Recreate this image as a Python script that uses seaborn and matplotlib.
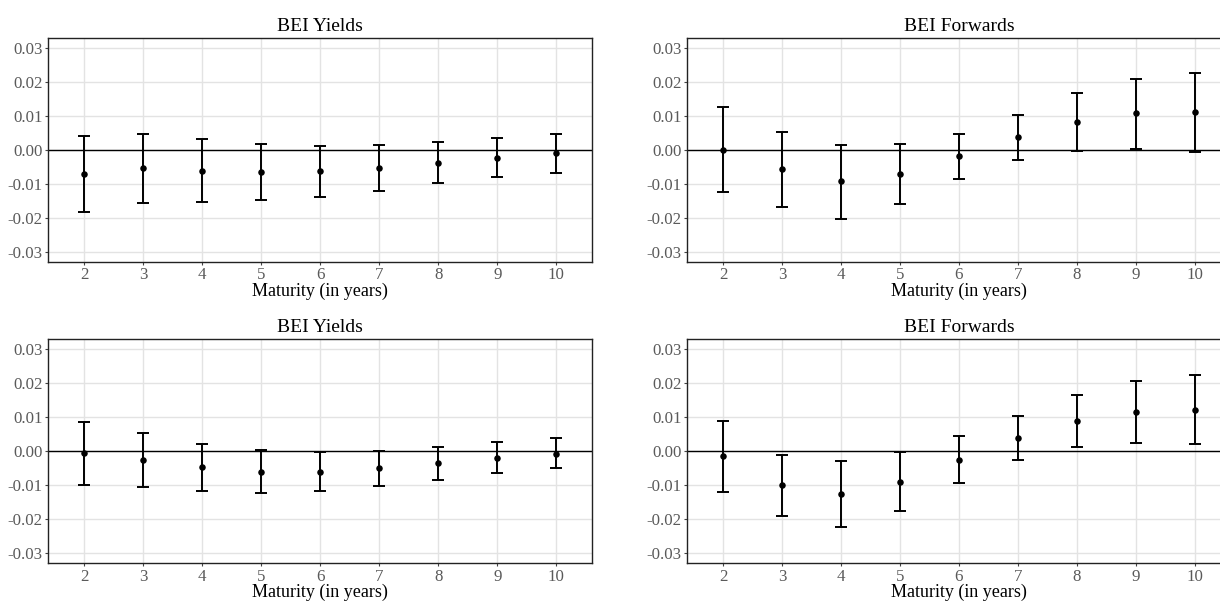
import numpy as np
import pandas as pd
import matplotlib
matplotlib.use("Agg")
import matplotlib.pyplot as plt
import seaborn as sns

# Maturities (years)
maturity = [2, 3, 4, 5, 6, 7, 8, 9, 10]

# Row 1 - BEI yields: point estimate, upper and lower bounds
yields_1_est = [-0.0070, -0.0054, -0.0061, -0.0066, -0.0063, -0.0052, -0.0037, -0.0023, -0.0010]
yields_1_hi = [0.0042, 0.0048, 0.0031, 0.0018, 0.0012, 0.0015, 0.0023, 0.0035, 0.0047]
yields_1_lo = [-0.0183, -0.0157, -0.0153, -0.0149, -0.0139, -0.0121, -0.0099, -0.0081, -0.0067]

# Row 1 - BEI forwards
fwd_1_est = [0.0000, -0.0057, -0.0093, -0.0072, -0.0019, 0.0039, 0.0084, 0.0109, 0.0113]
fwd_1_hi = [0.0126, 0.0052, 0.0016, 0.0018, 0.0048, 0.0104, 0.0168, 0.0211, 0.0228]
fwd_1_lo = [-0.0123, -0.0168, -0.0205, -0.0161, -0.0086, -0.0029, -0.0003, 0.0002, -0.0005]

# Row 2 - BEI yields
yields_2_est = [-0.0006, -0.0025, -0.0048, -0.0061, -0.0061, -0.0051, -0.0036, -0.0021, -0.0007]
yields_2_hi = [0.0085, 0.0055, 0.0021, 0.0002, -0.0003, 0.0001, 0.0012, 0.0026, 0.0039]
yields_2_lo = [-0.0099, -0.0105, -0.0118, -0.0123, -0.0118, -0.0103, -0.0085, -0.0065, -0.0050]

# Row 2 - BEI forwards
fwd_2_est = [-0.0015, -0.0101, -0.0127, -0.0090, -0.0026, 0.0039, 0.0088, 0.0116, 0.0122]
fwd_2_hi = [0.0089, -0.0011, -0.0029, -0.0002, 0.0046, 0.0105, 0.0165, 0.0207, 0.0224]
fwd_2_lo = [-0.0120, -0.0190, -0.0225, -0.0178, -0.0095, -0.0026, 0.0012, 0.0024, 0.0021]

y_ticks = [-0.03, -0.02, -0.01, 0.00, 0.01, 0.02, 0.03]

sns.set_theme(style="whitegrid")
plt.rcParams['font.family'] = ['Liberation Serif', 'DejaVu Serif']

TICK_COLOR = '#5a5a5a'


def draw_panel(ax, title, est, lo, hi):
    df = pd.DataFrame({'maturity': maturity, 'est': est, 'lo': lo, 'hi': hi})
    ax.axhline(0, color='black', lw=1.0, zorder=2)
    ax.errorbar(df['maturity'], df['est'],
                yerr=[df['est'] - df['lo'], df['hi'] - df['est']],
                fmt='none', ecolor='black', elinewidth=1.4,
                capsize=4.3, capthick=1.4, zorder=3)
    sns.scatterplot(data=df, x='maturity', y='est', ax=ax, color='black',
                    s=22, edgecolor='black', linewidth=0, zorder=4)
    ax.set_xlim(1.39, 10.61)
    ax.set_ylim(-0.033, 0.033)
    ax.set_xticks(maturity)
    ax.set_yticks(y_ticks)
    ax.set_yticklabels([f"{t:.2f}" for t in y_ticks])
    ax.grid(True, color='#e3e3e3', lw=1.0)
    ax.set_axisbelow(True)
    for sp in ax.spines.values():
        sp.set_color('#222222')
        sp.set_linewidth(1.0)
    ax.tick_params(axis='both', which='major', length=2.5, width=0.8,
                   color='#444444', labelcolor=TICK_COLOR, labelsize=12.2,
                   pad=1.5, bottom=True, left=True)
    ax.set_title(title, fontsize=14, color='black', pad=5)
    ax.set_xlabel('Maturity (in years)', fontsize=13, color='black', labelpad=-0.5)
    ax.set_ylabel('')


fig = plt.figure(figsize=(12.2, 6.01), dpi=100)
fig.patch.set_facecolor('white')

panels = [
    ([0.0396, 0.5646, 0.4459, 0.3717], 'BEI Yields', yields_1_est, yields_1_lo, yields_1_hi),
    ([0.5631, 0.5646, 0.4459, 0.3717], 'BEI Forwards', fwd_1_est, fwd_1_lo, fwd_1_hi),
    ([0.0396, 0.0632, 0.4459, 0.3722], 'BEI Yields', yields_2_est, yields_2_lo, yields_2_hi),
    ([0.5631, 0.0632, 0.4459, 0.3722], 'BEI Forwards', fwd_2_est, fwd_2_lo, fwd_2_hi),
]

for rect, title, est, lo, hi in panels:
    ax = fig.add_axes(rect)
    draw_panel(ax, title, est, lo, hi)

fig.savefig('out.png', dpi=100)
